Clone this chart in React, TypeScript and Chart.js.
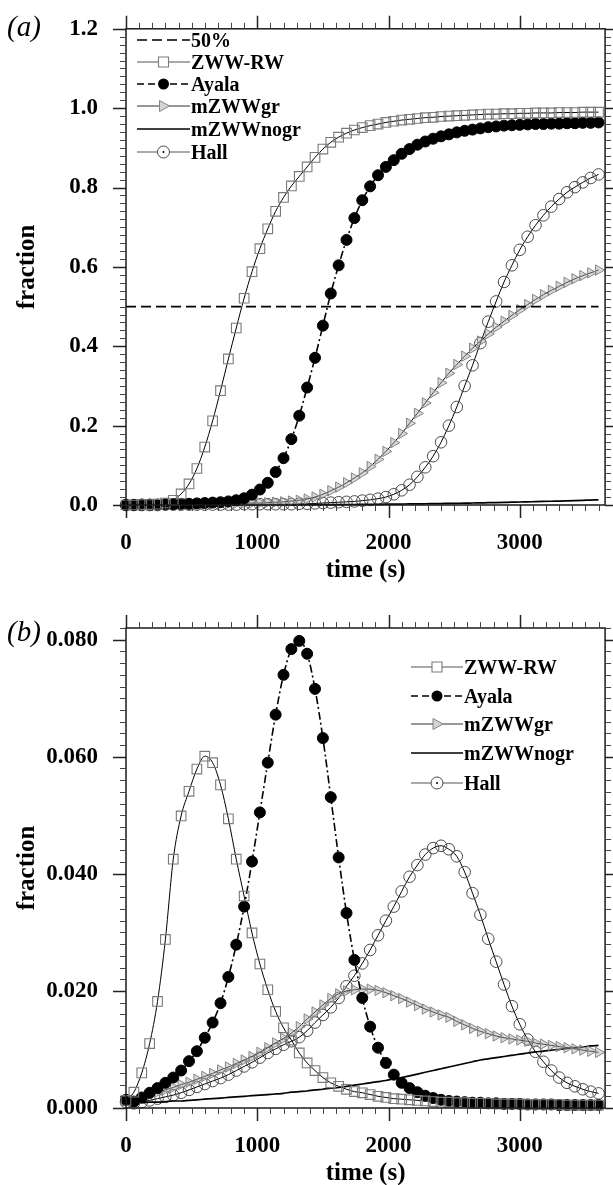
import React, { useEffect, useRef } from 'react';
import { Chart, registerables } from 'chart.js';

Chart.register(...registerables);

const SERIF = '"Liberation Serif", "Times New Roman", Times, serif';

// ---------- data ----------
const TIME = [0, 60, 120, 180, 240, 300, 360, 420, 480, 540, 600, 660, 720, 780, 840, 900, 960, 1020, 1080, 1140,
  1200, 1260, 1320, 1380, 1440, 1500, 1560, 1620, 1680, 1740, 1800, 1860, 1920, 1980, 2040, 2100, 2160, 2220, 2280, 2340,
  2400, 2460, 2520, 2580, 2640, 2700, 2760, 2820, 2880, 2940, 3000, 3060, 3120, 3180, 3240, 3300, 3360, 3420, 3480, 3540, 3600];

const X_TICKS = [0, 1000, 2000, 3000];
const A_Y_TICKS = [0, 0.2, 0.4, 0.6, 0.8, 1.0, 1.2];
const B_Y_TICKS = [0, 0.02, 0.04, 0.06, 0.08];

// panel (a)
const A_FIFTY_T = [0, 3600];
const A_FIFTY = [0.5, 0.5];
const A_ZWW_RW = [0.000, 0.000, 0.001, 0.001, 0.002, 0.005, 0.012, 0.028, 0.053, 0.092,
  0.146, 0.212, 0.288, 0.368, 0.446, 0.521, 0.588, 0.646, 0.696, 0.740,
  0.775, 0.804, 0.828, 0.852, 0.876, 0.897, 0.914, 0.927, 0.937, 0.945,
  0.951, 0.956, 0.960, 0.964, 0.967, 0.970, 0.972, 0.974, 0.976, 0.977,
  0.979, 0.980, 0.981, 0.982, 0.983, 0.984, 0.985, 0.985, 0.986, 0.986,
  0.987, 0.987, 0.988, 0.988, 0.988, 0.989, 0.989, 0.989, 0.990, 0.990,
  0.990];
const A_AYALA = [0.000, 0.000, 0.001, 0.001, 0.001, 0.002, 0.002, 0.003, 0.003, 0.004,
  0.005, 0.006, 0.007, 0.009, 0.012, 0.017, 0.026, 0.039, 0.056, 0.083,
  0.118, 0.166, 0.225, 0.296, 0.371, 0.452, 0.533, 0.604, 0.668, 0.723,
  0.768, 0.803, 0.831, 0.852, 0.869, 0.885, 0.897, 0.908, 0.916, 0.923,
  0.929, 0.934, 0.939, 0.943, 0.946, 0.949, 0.952, 0.954, 0.956, 0.957,
  0.958, 0.959, 0.960, 0.960, 0.961, 0.961, 0.962, 0.962, 0.963, 0.963,
  0.964];
const A_MZWWGR = [0.000, 0.000, 0.000, 0.001, 0.001, 0.001, 0.001, 0.002, 0.002, 0.002,
  0.002, 0.003, 0.003, 0.003, 0.004, 0.004, 0.005, 0.005, 0.006, 0.007,
  0.008, 0.010, 0.012, 0.015, 0.020, 0.027, 0.036, 0.045, 0.056, 0.068,
  0.081, 0.097, 0.115, 0.135, 0.157, 0.180, 0.206, 0.231, 0.257, 0.283,
  0.308, 0.332, 0.354, 0.375, 0.395, 0.413, 0.431, 0.448, 0.463, 0.478,
  0.492, 0.505, 0.518, 0.530, 0.541, 0.551, 0.561, 0.570, 0.578, 0.585,
  0.592];
const A_MZWWNOGR = [0.0000, 0.0000, 0.0000, 0.0001, 0.0001, 0.0001, 0.0001, 0.0001, 0.0002, 0.0002,
  0.0002, 0.0002, 0.0002, 0.0003, 0.0003, 0.0003, 0.0003, 0.0004, 0.0004, 0.0004,
  0.0005, 0.0005, 0.0006, 0.0007, 0.0008, 0.0009, 0.0010, 0.0011, 0.0012, 0.0013,
  0.0015, 0.0016, 0.0018, 0.0020, 0.0022, 0.0024, 0.0026, 0.0029, 0.0031, 0.0034,
  0.0037, 0.0040, 0.0043, 0.0046, 0.0050, 0.0054, 0.0058, 0.0062, 0.0066, 0.0070,
  0.0075, 0.0080, 0.0085, 0.0090, 0.0095, 0.0100, 0.0106, 0.0112, 0.0118, 0.0124,
  0.0130];
const A_HALL = [0.000, 0.000, 0.000, 0.000, 0.000, 0.001, 0.001, 0.001, 0.001, 0.001,
  0.001, 0.001, 0.001, 0.001, 0.001, 0.002, 0.002, 0.002, 0.002, 0.002,
  0.002, 0.002, 0.003, 0.003, 0.004, 0.005, 0.006, 0.007, 0.008, 0.009,
  0.011, 0.013, 0.016, 0.020, 0.027, 0.037, 0.051, 0.071, 0.095, 0.123,
  0.158, 0.200, 0.247, 0.300, 0.352, 0.408, 0.462, 0.513, 0.562, 0.604,
  0.643, 0.676, 0.705, 0.730, 0.752, 0.771, 0.788, 0.801, 0.813, 0.824,
  0.833];

// panel (b)
const B_ZWW_RW = [0.0013, 0.0027, 0.0060, 0.0110, 0.0182, 0.0288, 0.0425, 0.0499, 0.0541, 0.0579,
  0.0601, 0.0590, 0.0552, 0.0494, 0.0425, 0.0362, 0.0299, 0.0246, 0.0202, 0.0165,
  0.0137, 0.0116, 0.0094, 0.0077, 0.0064, 0.0052, 0.0043, 0.0037, 0.0032, 0.0028,
  0.0026, 0.0023, 0.0020, 0.0018, 0.0016, 0.0015, 0.0014, 0.0013, 0.0012, 0.0011,
  0.0010, 0.0010, 0.0009, 0.0009, 0.0008, 0.0008, 0.0008, 0.0007, 0.0007, 0.0007,
  0.0007, 0.0006, 0.0006, 0.0006, 0.0006, 0.0006, 0.0005, 0.0005, 0.0005, 0.0005,
  0.0005];
const B_AYALA = [0.0014, 0.0011, 0.0018, 0.0026, 0.0034, 0.0043, 0.0052, 0.0064, 0.0080, 0.0097,
  0.0120, 0.0146, 0.0179, 0.0224, 0.0279, 0.0344, 0.0421, 0.0505, 0.0590, 0.0672,
  0.0740, 0.0784, 0.0798, 0.0776, 0.0716, 0.0632, 0.0531, 0.0428, 0.0333, 0.0253,
  0.0188, 0.0139, 0.0103, 0.0077, 0.0057, 0.0043, 0.0034, 0.0027, 0.0021, 0.0017,
  0.0014, 0.0012, 0.0011, 0.0010, 0.0009, 0.0009, 0.0008, 0.0008, 0.0007, 0.0007,
  0.0007, 0.0006, 0.0006, 0.0006, 0.0006, 0.0005, 0.0005, 0.0005, 0.0005, 0.0005,
  0.0005];
const B_MZWWGR = [0.0012, 0.0010, 0.0015, 0.0022, 0.0027, 0.0031, 0.0035, 0.0040, 0.0044, 0.0049,
  0.0054, 0.0059, 0.0065, 0.0070, 0.0076, 0.0082, 0.0088, 0.0095, 0.0103, 0.0111,
  0.0119, 0.0128, 0.0139, 0.0152, 0.0164, 0.0176, 0.0187, 0.0195, 0.0200, 0.0202,
  0.0203, 0.0203, 0.0201, 0.0197, 0.0192, 0.0187, 0.0181, 0.0175, 0.0169, 0.0164,
  0.0159, 0.0155, 0.0148, 0.0142, 0.0136, 0.0131, 0.0127, 0.0123, 0.0120, 0.0118,
  0.0116, 0.0114, 0.0111, 0.0109, 0.0107, 0.0105, 0.0103, 0.0101, 0.0099, 0.0097,
  0.0095];
const B_MZWWNOGR = [0.0008, 0.0009, 0.0009, 0.0010, 0.0010, 0.0011, 0.0012, 0.0012, 0.0013, 0.0014,
  0.0015, 0.0016, 0.0017, 0.0018, 0.0019, 0.0020, 0.0021, 0.0022, 0.0023, 0.0024,
  0.0025, 0.0027, 0.0028, 0.0029, 0.0031, 0.0032, 0.0034, 0.0035, 0.0037, 0.0039,
  0.0041, 0.0043, 0.0045, 0.0047, 0.0050, 0.0052, 0.0055, 0.0058, 0.0061, 0.0064,
  0.0067, 0.0070, 0.0073, 0.0076, 0.0079, 0.0082, 0.0084, 0.0086, 0.0088, 0.0090,
  0.0092, 0.0094, 0.0096, 0.0097, 0.0099, 0.0100, 0.0102, 0.0103, 0.0104, 0.0106,
  0.0107];
const B_HALL = [0.0010, 0.0008, 0.0010, 0.0013, 0.0016, 0.0019, 0.0022, 0.0026, 0.0031, 0.0036,
  0.0041, 0.0046, 0.0051, 0.0057, 0.0064, 0.0071, 0.0078, 0.0086, 0.0094, 0.0101,
  0.0108, 0.0114, 0.0121, 0.0132, 0.0146, 0.0159, 0.0172, 0.0188, 0.0208, 0.0226,
  0.0247, 0.0270, 0.0295, 0.0320, 0.0344, 0.0370, 0.0395, 0.0415, 0.0433, 0.0444,
  0.0448, 0.0442, 0.0430, 0.0403, 0.0367, 0.0330, 0.0289, 0.0250, 0.0211, 0.0174,
  0.0143, 0.0117, 0.0096, 0.0079, 0.0064, 0.0052, 0.0043, 0.0037, 0.0032, 0.0028,
  0.0025];

// ---------- styles ----------
type Kind = 'fifty' | 'zww' | 'ayala' | 'mgr' | 'nogr' | 'hall';

const STYLE: Record<Kind, any> = {
  fifty: { borderColor: '#000', borderWidth: 1.6, borderDash: [10, 5], pointRadius: 0 },
  zww: { borderColor: '#000', borderWidth: 1, pointStyle: 'rect', pointRadius: 6.8, pointBorderColor: '#7a7a7a', pointBackgroundColor: 'rgba(0,0,0,0)', pointBorderWidth: 1.1 },
  ayala: { borderColor: '#000', borderWidth: 1.6, borderDash: [8, 3, 2, 3], pointStyle: 'circle', pointRadius: 5.5, pointBorderColor: '#000', pointBackgroundColor: '#000', pointBorderWidth: 1 },
  mgr: { borderColor: '#000', borderWidth: 1, pointStyle: 'triangle', pointRotation: 90, pointRadius: 6, pointBorderColor: '#858585', pointBackgroundColor: 'rgba(170,170,170,0.45)', pointBorderWidth: 1 },
  nogr: { borderColor: '#000', borderWidth: 1.7, pointRadius: 0 },
  hall: { borderColor: '#000', borderWidth: 1, pointStyle: 'circle', pointRadius: 5.8, pointBorderColor: '#4a4a4a', pointBackgroundColor: 'rgba(0,0,0,0)', pointBorderWidth: 1 },
};

interface Series { label: string; kind: Kind; t: number[]; v: number[] }

interface PanelCfg {
  tag: string;
  width: number;
  height: number;
  plotTop: number;
  plotBottom: number;
  plotLeft: number;
  plotRight: number;
  xMax: number;
  yMax: number;
  yTicks: number[];
  yDigits: number;
  yMinor: number;
  series: Series[];
  legendX0: number;
  legendX1: number;
  legendRows: number[];
  tagY: number;
}

function drawMarker(ctx: CanvasRenderingContext2D, kind: Kind, x: number, y: number) {
  ctx.save();
  ctx.setLineDash([]);
  if (kind === 'zww') {
    ctx.fillStyle = '#fff';
    ctx.strokeStyle = '#7a7a7a';
    ctx.lineWidth = 1.1;
    ctx.beginPath();
    ctx.rect(x - 5, y - 5, 10, 10);
    ctx.fill();
    ctx.stroke();
  } else if (kind === 'ayala') {
    ctx.fillStyle = '#000';
    ctx.beginPath();
    ctx.arc(x, y, 5.5, 0, Math.PI * 2);
    ctx.fill();
  } else if (kind === 'mgr') {
    ctx.fillStyle = '#fff';
    ctx.strokeStyle = '#858585';
    ctx.lineWidth = 1;
    ctx.beginPath();
    ctx.moveTo(x + 6, y);
    ctx.lineTo(x - 4, y - 5.5);
    ctx.lineTo(x - 4, y + 5.5);
    ctx.closePath();
    ctx.fill();
    ctx.fillStyle = 'rgba(170,170,170,0.5)';
    ctx.fill();
    ctx.stroke();
  } else if (kind === 'hall') {
    ctx.fillStyle = '#fff';
    ctx.strokeStyle = '#4a4a4a';
    ctx.lineWidth = 1;
    ctx.beginPath();
    ctx.arc(x, y, 6, 0, Math.PI * 2);
    ctx.fill();
    ctx.stroke();
    ctx.fillStyle = '#000';
    ctx.beginPath();
    ctx.arc(x, y, 1, 0, Math.PI * 2);
    ctx.fill();
  }
  ctx.restore();
}

const LEGEND_LINE: Record<Kind, string> = {
  fifty: '#000', zww: '#555', ayala: '#000', mgr: '#333', nogr: '#000', hall: '#555',
};

function makeDecor(cfg: PanelCfg) {
  return {
    id: 'decor' + cfg.tag,
    afterDraw(chart: any) {
      const ctx: CanvasRenderingContext2D = chart.ctx;
      const ca = chart.chartArea;
      const xs = chart.scales.x;
      const ys = chart.scales.y;
      ctx.save();
      // frame
      ctx.setLineDash([]);
      ctx.strokeStyle = '#1a1a1a';
      ctx.lineWidth = 1.5;
      ctx.strokeRect(ca.left, ca.top, ca.right - ca.left, ca.bottom - ca.top);
      // ticks (major + minor, all four sides, outward)
      const majors: number[][] = [];
      const minors: number[][] = [];
      for (let i = 0; i * 100 <= cfg.xMax; i++) {
        const px = Math.round(xs.getPixelForValue(i * 100)) + 0.5;
        const major = i % 10 === 0;
        const len = major ? 13 : 6;
        const arr = major ? majors : minors;
        arr.push([px, ca.bottom, px, ca.bottom + len]);
        arr.push([px, ca.top, px, ca.top - len]);
      }
      for (let i = 0; i * cfg.yMinor <= cfg.yMax + 1e-9; i++) {
        const py = Math.round(ys.getPixelForValue(i * cfg.yMinor)) + 0.5;
        const major = i % 10 === 0;
        const len = major ? 13 : 6;
        const arr = major ? majors : minors;
        arr.push([ca.left, py, ca.left - len, py]);
        arr.push([ca.right, py, ca.right + len, py]);
      }
      ctx.strokeStyle = '#444';
      ctx.lineWidth = 1;
      ctx.beginPath();
      minors.forEach(([a, b, c, d]) => { ctx.moveTo(a, b); ctx.lineTo(c, d); });
      ctx.stroke();
      ctx.strokeStyle = '#222';
      ctx.lineWidth = 1.5;
      ctx.beginPath();
      majors.forEach(([a, b, c, d]) => { ctx.moveTo(a, b); ctx.lineTo(c, d); });
      ctx.stroke();

      // legend
      cfg.series.forEach((s, i) => {
        const y = cfg.legendRows[i];
        const st = STYLE[s.kind];
        ctx.save();
        ctx.strokeStyle = LEGEND_LINE[s.kind];
        ctx.lineWidth = s.kind === 'nogr' || s.kind === 'fifty' || s.kind === 'ayala' ? 1.7 : 1.2;
        ctx.setLineDash(s.kind === 'ayala' ? [7, 4] : st.borderDash || []);
        ctx.beginPath();
        ctx.moveTo(cfg.legendX0, y);
        ctx.lineTo(cfg.legendX1, y);
        ctx.stroke();
        ctx.restore();
        drawMarker(ctx, s.kind, (cfg.legendX0 + cfg.legendX1) / 2, y);
        ctx.fillStyle = '#000';
        ctx.font = `bold 20px ${SERIF}`;
        ctx.textAlign = 'left';
        ctx.textBaseline = 'alphabetic';
        ctx.fillText(s.label, cfg.legendX1 + 1, y + 7);
      });

      // axis titles
      ctx.fillStyle = '#000';
      ctx.font = `bold 25px ${SERIF}`;
      ctx.textAlign = 'center';
      ctx.textBaseline = 'middle';
      ctx.fillText('time (s)', (ca.left + ca.right) / 2, ca.bottom + 66);
      ctx.save();
      ctx.translate(28, (ca.top + ca.bottom) / 2);
      ctx.rotate(-Math.PI / 2);
      ctx.fillText('fraction', 0, 0);
      ctx.restore();

      // panel tag
      ctx.font = `italic 29px ${SERIF}`;
      ctx.textAlign = 'left';
      ctx.textBaseline = 'middle';
      ctx.fillText(cfg.tag, 7, cfg.tagY);
      ctx.restore();
    },
  };
}

function Panel({ cfg }: { cfg: PanelCfg }) {
  const ref = useRef<HTMLCanvasElement | null>(null);
  useEffect(() => {
    if (!ref.current) return;
    const datasets = cfg.series.map((s) => ({
      label: s.label,
      data: s.t.map((t, i) => ({ x: t, y: s.v[i] })),
      cubicInterpolationMode: 'monotone',
      clip: false,
      fill: false,
      pointHoverRadius: 0,
      ...STYLE[s.kind],
    }));
    const tickFont = { family: SERIF, size: 23, weight: 'bold' as const };
    const chart = new Chart(ref.current, {
      type: 'line',
      data: { datasets } as any,
      plugins: [makeDecor(cfg)],
      options: {
        animation: false,
        responsive: false,
        devicePixelRatio: 1,
        events: [],
        layout: { padding: { top: cfg.plotTop, right: cfg.width - cfg.plotRight, left: 0, bottom: 0 } },
        plugins: { legend: { display: false }, tooltip: { enabled: false } },
        scales: {
          x: {
            type: 'linear',
            min: 0,
            max: cfg.xMax,
            afterBuildTicks: (sc: any) => { sc.ticks = X_TICKS.map((v) => ({ value: v })); },
            afterFit: (sc: any) => { sc.height = cfg.height - cfg.plotBottom; },
            grid: { display: false, drawTicks: true, tickLength: 13 },
            border: { display: false },
            ticks: { font: tickFont, color: '#000', padding: 11, maxRotation: 0, autoSkip: false, callback: (v: any) => String(v) },
          },
          y: {
            type: 'linear',
            min: 0,
            max: cfg.yMax,
            afterBuildTicks: (sc: any) => { sc.ticks = cfg.yTicks.map((v) => ({ value: v })); },
            afterFit: (sc: any) => { sc.width = cfg.plotLeft; },
            grid: { display: false, drawTicks: true, tickLength: 13 },
            border: { display: false },
            ticks: { font: tickFont, color: '#000', padding: 15, autoSkip: false, callback: (v: any) => Number(v).toFixed(cfg.yDigits) },
          },
        },
      } as any,
    });
    return () => chart.destroy();
  }, [cfg]);
  return <canvas ref={ref} width={cfg.width} height={cfg.height} style={{ display: 'block', width: cfg.width, height: cfg.height }} />;
}

const PANEL_A: PanelCfg = {
  tag: '(a)',
  width: 613,
  height: 592,
  plotTop: 25,
  plotBottom: 505,
  plotLeft: 126,
  plotRight: 607,
  xMax: 3650,
  yMax: 1.2,
  yTicks: A_Y_TICKS,
  yDigits: 1,
  yMinor: 0.02,
  series: [
    { label: '50%', kind: 'fifty', t: A_FIFTY_T, v: A_FIFTY },
    { label: 'ZWW-RW', kind: 'zww', t: TIME, v: A_ZWW_RW },
    { label: 'Ayala', kind: 'ayala', t: TIME, v: A_AYALA },
    { label: 'mZWWgr', kind: 'mgr', t: TIME, v: A_MZWWGR },
    { label: 'mZWWnogr', kind: 'nogr', t: TIME, v: A_MZWWNOGR },
    { label: 'Hall', kind: 'hall', t: TIME, v: A_HALL },
  ],
  legendX0: 137,
  legendX1: 190,
  legendRows: [40, 62, 84, 106, 129, 152],
  tagY: 28,
};

const PANEL_B: PanelCfg = {
  tag: '(b)',
  width: 613,
  height: 593,
  plotTop: 36,
  plotBottom: 516,
  plotLeft: 126,
  plotRight: 607,
  xMax: 3650,
  yMax: 0.082,
  yTicks: B_Y_TICKS,
  yDigits: 3,
  yMinor: 0.002,
  series: [
    { label: 'ZWW-RW', kind: 'zww', t: TIME, v: B_ZWW_RW },
    { label: 'Ayala', kind: 'ayala', t: TIME, v: B_AYALA },
    { label: 'mZWWgr', kind: 'mgr', t: TIME, v: B_MZWWGR },
    { label: 'mZWWnogr', kind: 'nogr', t: TIME, v: B_MZWWNOGR },
    { label: 'Hall', kind: 'hall', t: TIME, v: B_HALL },
  ],
  legendX0: 411,
  legendX1: 463,
  legendRows: [75, 104, 132, 161, 191],
  tagY: 41,
};

export default function App() {
  return (
    <div style={{ position: 'absolute', left: 0, top: 0, width: 613, height: 1185, background: '#fff' }}>
      <Panel cfg={PANEL_A} />
      <Panel cfg={PANEL_B} />
    </div>
  );
}
